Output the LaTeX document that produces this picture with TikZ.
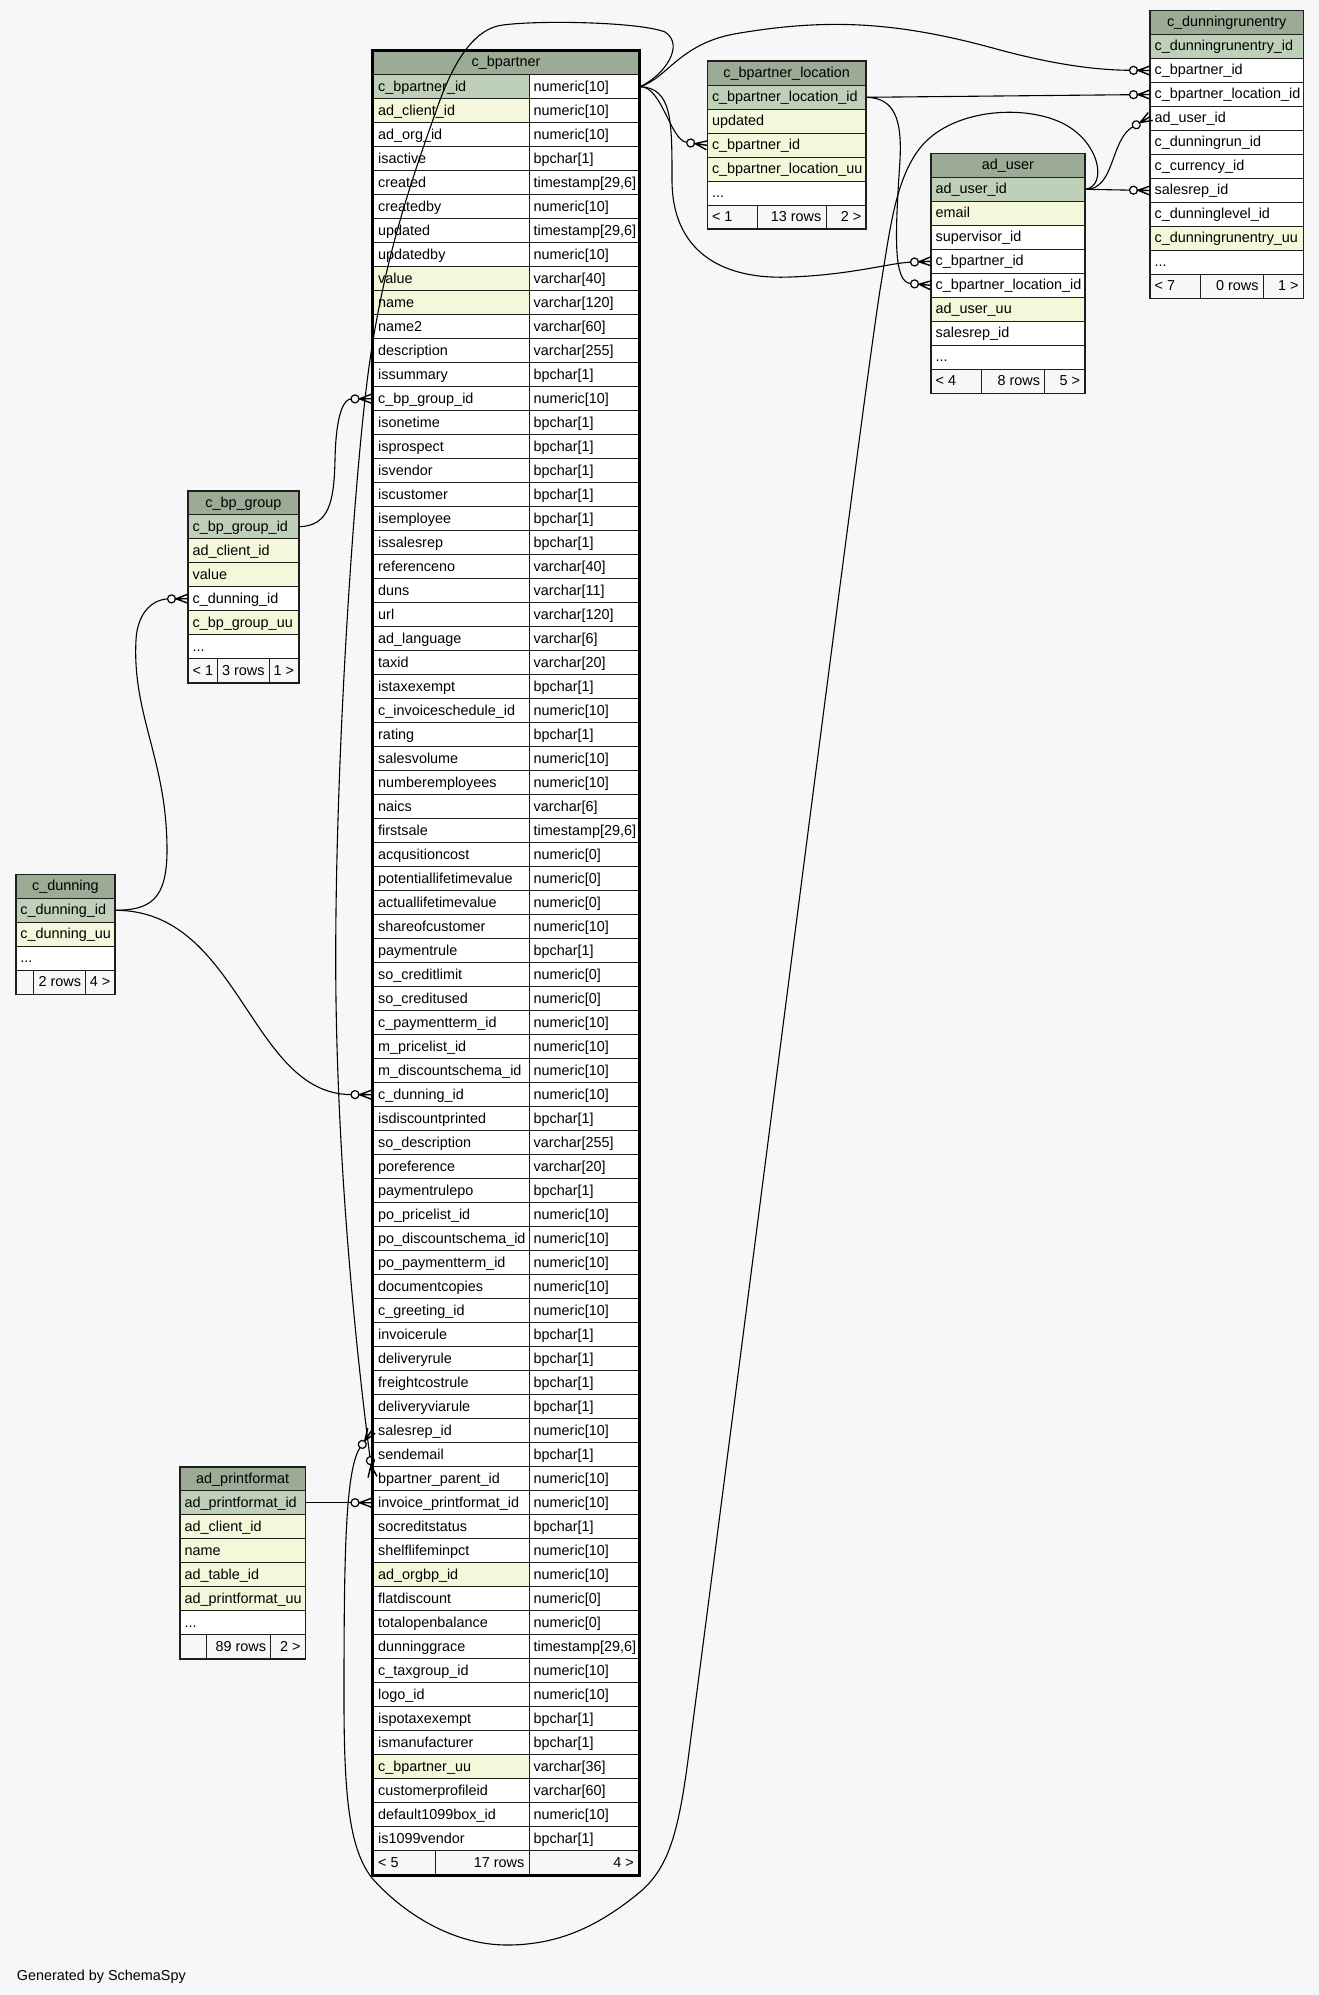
\documentclass[tikz,border=0pt]{standalone}
\usepackage{fontspec}
\setmainfont{Liberation Sans}
\usetikzlibrary{arrows.meta}
\definecolor{bg}{HTML}{F7F7F7}
\definecolor{chd}{HTML}{9BAB96}
\definecolor{cp}{HTML}{BED1B8}
\definecolor{ch}{HTML}{F4F7DA}
\definecolor{cw}{HTML}{FFFFFF}
\definecolor{cfoot}{HTML}{F7F7F7}
\definecolor{lc}{HTML}{1E1E1E}

\pgfdeclarearrow{
  name = CrowODot,
  setup code = {
    \pgfarrowssettipend{0pt}
    \pgfarrowssetlineend{-20.5pt}
    \pgfarrowssetbackend{-21pt}
    \pgfarrowssetvisualbackend{-21pt}
  },
  drawing code = {
    \pgfsetdash{}{0pt}
    \pgfsetlinewidth{1.4pt}
    \pgfpathmoveto{\pgfpoint{0pt}{4.5pt}}
    \pgfpathlineto{\pgfpoint{-12pt}{0pt}}
    \pgfpathlineto{\pgfpoint{0pt}{-4.5pt}}
    \pgfpathmoveto{\pgfpoint{-12pt}{0pt}}
    \pgfpathlineto{\pgfpoint{0pt}{0pt}}
    \pgfusepathqstroke
    \pgfsetlinewidth{1.2pt}
    \pgfpathcircle{\pgfpoint{-16.5pt}{0pt}}{4pt}
    \pgfusepathqstroke
  }
}

\tikzset{
  txt/.style={anchor=base west, inner sep=0pt, font=\fontsize{14.4}{17}\selectfont, text=black},
  txtr/.style={txt, anchor=base east},
  txtc/.style={txt, anchor=base},
  cellline/.style={draw=lc, line width=1pt},
  frame/.style={draw=lc, line width=1.6pt},
  bigframe/.style={draw=black, line width=2.6pt},
  rel/.style={draw=black, line width=1.1pt, -CrowODot},
}
\newcommand\threedots{...}

% #1 prefix, #2 x1, #3 x2, #4 header top, #5 title, #6 rows (text/fill)
\newcommand\simpletable[6]{%
  \filldraw[fill=chd, cellline] (#2,#4) rectangle (#3,#4+24);
  \node[txtc] (#1-h) at ({(#2+#3)/2},#4+16.3) {#5};
  \foreach \cn/\cf [count=\i from 0] in {#6} {
    \pgfmathsetmacro\yt{#4+24+24*\i}
    \filldraw[fill=c\cf, cellline] (#2,\yt) rectangle (#3,\yt+24);
    \node[txt] (#1-\i) at (#2+4.5,\yt+16.4) {\cn};
  }
}
% #1 prefix, #2 x1, #3 xa, #4 xb, #5 x2, #6 top, #7 left, #8 mid, #9 right
\newcommand\tfooter[9]{%
  \filldraw[fill=cfoot, cellline] (#2,#6) rectangle (#3,#6+24);
  \filldraw[fill=cfoot, cellline] (#3,#6) rectangle (#4,#6+24);
  \filldraw[fill=cfoot, cellline] (#4,#6) rectangle (#5,#6+24);
  \node[txt] (#1-fl) at (#2+4.5,#6+16.4) {#7};
  \node[txtr] (#1-fm) at (#4-4.5,#6+16.4) {#8};
  \node[txtr] (#1-fr) at (#5-4.5,#6+16.4) {#9};
}

\begin{document}
\begin{tikzpicture}[x=1pt,y=-1pt]
\path[use as bounding box, fill=bg] (0,0) rectangle (1319,1995);

% ---------------- c_bpartner ----------------
\filldraw[fill=chd, cellline] (373.5,51.7) rectangle (638.5,74.7);
\node[txtc] (bp-h) at (506,66) {c\_bpartner};
\foreach \cn/\ct/\cf [count=\i from 0] in {
c\_bpartner\_id/numeric[10]/p,
ad\_client\_id/numeric[10]/h,
ad\_org\_id/numeric[10]/w,
isactive/bpchar[1]/w,
created/{timestamp[29,6]}/w,
createdby/numeric[10]/w,
updated/{timestamp[29,6]}/w,
updatedby/numeric[10]/w,
value/varchar[40]/h,
name/varchar[120]/h,
name2/varchar[60]/w,
description/varchar[255]/w,
issummary/bpchar[1]/w,
c\_bp\_group\_id/numeric[10]/w,
isonetime/bpchar[1]/w,
isprospect/bpchar[1]/w,
isvendor/bpchar[1]/w,
iscustomer/bpchar[1]/w,
isemployee/bpchar[1]/w,
issalesrep/bpchar[1]/w,
referenceno/varchar[40]/w,
duns/varchar[11]/w,
url/varchar[120]/w,
ad\_language/varchar[6]/w,
taxid/varchar[20]/w,
istaxexempt/bpchar[1]/w,
c\_invoiceschedule\_id/numeric[10]/w,
rating/bpchar[1]/w,
salesvolume/numeric[10]/w,
numberemployees/numeric[10]/w,
naics/varchar[6]/w,
firstsale/{timestamp[29,6]}/w,
acqusitioncost/numeric[0]/w,
potentiallifetimevalue/numeric[0]/w,
actuallifetimevalue/numeric[0]/w,
shareofcustomer/numeric[10]/w,
paymentrule/bpchar[1]/w,
so\_creditlimit/numeric[0]/w,
so\_creditused/numeric[0]/w,
c\_paymentterm\_id/numeric[10]/w,
m\_pricelist\_id/numeric[10]/w,
m\_discountschema\_id/numeric[10]/w,
c\_dunning\_id/numeric[10]/w,
isdiscountprinted/bpchar[1]/w,
so\_description/varchar[255]/w,
poreference/varchar[20]/w,
paymentrulepo/bpchar[1]/w,
po\_pricelist\_id/numeric[10]/w,
po\_discountschema\_id/numeric[10]/w,
po\_paymentterm\_id/numeric[10]/w,
documentcopies/numeric[10]/w,
c\_greeting\_id/numeric[10]/w,
invoicerule/bpchar[1]/w,
deliveryrule/bpchar[1]/w,
freightcostrule/bpchar[1]/w,
deliveryviarule/bpchar[1]/w,
salesrep\_id/numeric[10]/w,
sendemail/bpchar[1]/w,
bpartner\_parent\_id/numeric[10]/w,
invoice\_printformat\_id/numeric[10]/w,
socreditstatus/bpchar[1]/w,
shelflifeminpct/numeric[10]/w,
ad\_orgbp\_id/numeric[10]/h,
flatdiscount/numeric[0]/w,
totalopenbalance/numeric[0]/w,
dunninggrace/{timestamp[29,6]}/w,
c\_taxgroup\_id/numeric[10]/w,
logo\_id/numeric[10]/w,
ispotaxexempt/bpchar[1]/w,
ismanufacturer/bpchar[1]/w,
c\_bpartner\_uu/varchar[36]/h,
customerprofileid/varchar[60]/w,
default1099box\_id/numeric[10]/w,
is1099vendor/bpchar[1]/w} {
  \pgfmathsetmacro\yt{74.7+24*\i}
  \filldraw[fill=c\cf, cellline] (373.5,\yt) rectangle (529,\yt+24);
  \filldraw[fill=cw, cellline] (529,\yt) rectangle (638.5,\yt+24);
  \node[txt] (bpn-\i) at (378,\yt+16.4) {\cn};
  \node[txt] (bpt-\i) at (533.5,\yt+16.4) {\ct};
}
\tfooter{bp}{373.5}{435}{529}{638.5}{1850.7}{< 5}{17 rows}{4 >}
\draw[bigframe] (372.6,50.4) rectangle (639.4,1875.6);

% ---------------- c_bpartner_location ----------------
\simpletable{bpl}{707.3}{866}{61}{c\_bpartner\_location}{c\_bpartner\_location\_id/p,updated/h,c\_bpartner\_id/h,c\_bpartner\_location\_uu/h,\threedots/w}
\tfooter{bpl}{707.3}{757}{826}{866}{205}{< 1}{13 rows}{2 >}
\draw[frame] (707.3,61) rectangle (866,229);

% ---------------- c_dunningrunentry ----------------
\simpletable{dre}{1150}{1303.3}{10.5}{c\_dunningrunentry}{c\_dunningrunentry\_id/p,c\_bpartner\_id/w,c\_bpartner\_location\_id/w,ad\_user\_id/w,c\_dunningrun\_id/w,c\_currency\_id/w,salesrep\_id/w,c\_dunninglevel\_id/w,c\_dunningrunentry\_uu/h,\threedots/w}
\tfooter{dre}{1150}{1200.7}{1263.3}{1303.3}{274.5}{< 7}{0 rows}{1 >}
\draw[frame] (1150,10.5) rectangle (1303.3,298.5);

% ---------------- ad_user ----------------
\simpletable{au}{931}{1084.7}{153.3}{ad\_user}{ad\_user\_id/p,email/h,supervisor\_id/w,c\_bpartner\_id/w,c\_bpartner\_location\_id/w,ad\_user\_uu/h,salesrep\_id/w,\threedots/w}
\tfooter{au}{931}{981.7}{1044.7}{1084.7}{369.3}{< 4}{8 rows}{5 >}
\draw[frame] (931,153.3) rectangle (1084.7,393.3);

% ---------------- c_bp_group ----------------
\simpletable{grp}{188}{298.7}{490.7}{c\_bp\_group}{c\_bp\_group\_id/p,ad\_client\_id/h,value/h,c\_dunning\_id/w,c\_bp\_group\_uu/h,\threedots/w}
\tfooter{grp}{188}{217.3}{269.3}{298.7}{658.7}{< 1}{3 rows}{1 >}
\draw[frame] (188,490.7) rectangle (298.7,682.7);

% ---------------- c_dunning ----------------
\simpletable{dun}{15.7}{115}{874.3}{c\_dunning}{c\_dunning\_id/p,c\_dunning\_uu/h,\threedots/w}
\tfooter{dun}{15.7}{33}{85.7}{115}{970.3}{}{2 rows}{4 >}
\draw[frame] (15.7,874.3) rectangle (115,994.3);

% ---------------- ad_printformat ----------------
\simpletable{pf}{180}{305.3}{1466.7}{ad\_printformat}{ad\_printformat\_id/p,ad\_client\_id/h,name/h,ad\_table\_id/h,ad\_printformat\_uu/h,\threedots/w}
\tfooter{pf}{180}{206.7}{270.7}{305.3}{1634.7}{}{89 rows}{2 >}
\draw[frame] (180,1466.7) rectangle (305.3,1658.7);

% ---------------- connector ends ----------------
\coordinate (bp-id-e) at (640,86.7);
\coordinate (bp-grp-w) at (371.5,398.7);
\coordinate (bp-dun-w) at (371.5,1094.7);
\coordinate (bp-srep-w) at (371.5,1430.7);
\coordinate (bp-par-w) at (372.5,1477);
\coordinate (bp-ipf-w) at (371.5,1502.7);
\coordinate (bpl-id-e) at (866.5,97.3);
\coordinate (bpl-bp-w) at (707,145.3);
\coordinate (dre-bp-w) at (1150,70.5);
\coordinate (dre-loc-w) at (1150,94.5);
\coordinate (dre-usr-w) at (1150.5,116.5);
\coordinate (dre-srep-w) at (1150,190.5);
\coordinate (au-id-e) at (1085.3,189.3);
\coordinate (au-bp-w) at (931,261.3);
\coordinate (au-loc-w) at (931,285.3);
\coordinate (grp-id-e) at (299,526.7);
\coordinate (grp-dun-w) at (188,598.7);
\coordinate (dun-id-e) at (115.3,910.3);
\coordinate (pf-id-e) at (305.5,1502.7);

% ---------------- connectors ----------------
\draw[rel] (bp-id-e) .. controls (662,86) and (670,140) .. (bpl-bp-w);
\draw[rel] (bp-id-e) .. controls (668,78) and (680,42) .. (740,33)
  .. controls (830,18) and (900,22) .. (1000,50)
  .. controls (1060,66) and (1100,70) .. (dre-bp-w);
\draw[rel] (bp-id-e) .. controls (672,88) and (672,120) .. (672,180)
  .. controls (672,250) and (720,280) .. (790,277)
  .. controls (850,275) and (890,263) .. (au-bp-w);
\draw[rel] (bp-id-e) .. controls (665,75) and (685,45) .. (665,32)
  .. controls (640,22) and (540,20) .. (503,25)
  .. controls (475,28) and (455,60) .. (440,100)
  .. controls (415,170) and (386,250) .. (370,360)
  .. controls (355,460) and (333,780) .. (336,1000)
  .. controls (339,1200) and (360,1380) .. (bp-par-w);
\draw[rel] (grp-id-e) .. controls (330,526) and (334,500) .. (335,460)
  .. controls (336,410) and (345,399) .. (bp-grp-w);
\draw[rel] (dun-id-e) .. controls (150,910) and (167,900) .. (167,850)
  .. controls (167,760) and (132,715) .. (136,640)
  .. controls (138,605) and (160,599) .. (grp-dun-w);
\draw[rel] (dun-id-e) .. controls (240,910) and (250,1094) .. (bp-dun-w);
\draw[rel] (pf-id-e) -- (bp-ipf-w);
\draw[rel] (bpl-id-e) -- (dre-loc-w);
\draw[rel] (bpl-id-e) .. controls (895,98) and (902,120) .. (900,160)
  .. controls (895,235) and (893,282) .. (au-loc-w);
\draw[rel] (au-id-e) .. controls (1115,190) and (1110,140) .. (dre-usr-w);
\draw[rel] (au-id-e) -- (dre-srep-w);
\draw[rel] (au-id-e) .. controls (1108,186) and (1100,140) .. (1060,122)
  .. controls (1020,104) and (950,110) .. (920,148)
  .. controls (895,180) and (890,230) .. (880,290)
  .. controls (860,420) and (765,1170) .. (688,1760)
  .. controls (678,1835) and (668,1868) .. (640,1892)
  .. controls (600,1925) and (560,1945) .. (507,1945)
  .. controls (450,1945) and (400,1910) .. (372,1878)
  .. controls (350,1850) and (344,1800) .. (344,1700)
  .. controls (344,1560) and (345,1470) .. (bp-srep-w);

\node[txt] (gen) at (16.7,1980.7) {Generated by SchemaSpy};
\end{tikzpicture}
\end{document}
